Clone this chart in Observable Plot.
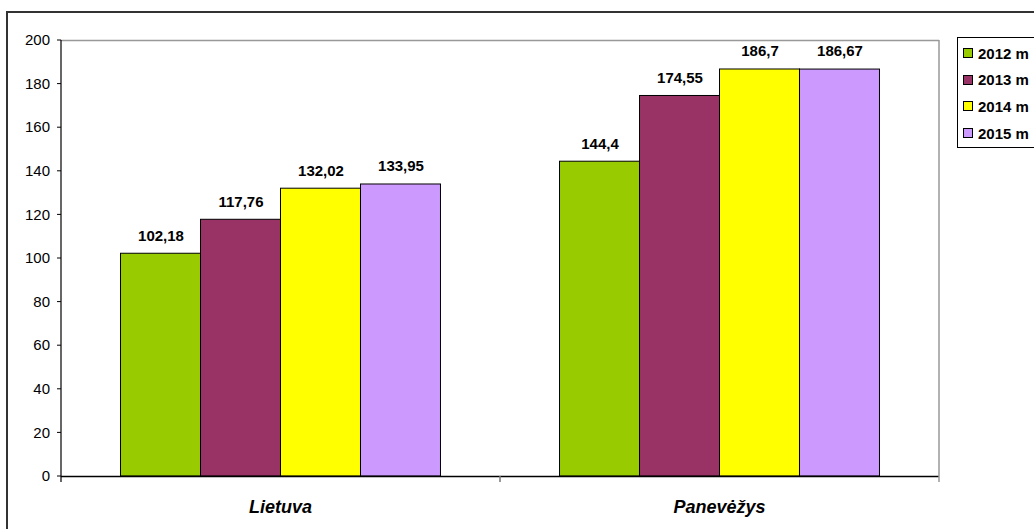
<!DOCTYPE html>
<html>
<head>
<meta charset="utf-8">
<script src="https://cdn.jsdelivr.net/npm/d3@7"></script>
<script src="https://cdn.jsdelivr.net/npm/@observablehq/plot@0.6"></script>
<style>
  html, body { margin: 0; padding: 0; background: #fff; overflow: hidden; }
  #wrap { position: relative; width: 1034px; height: 529px; overflow: hidden; font-family: "Liberation Sans", Arial, sans-serif; }
  #otop { position: absolute; left: 6px; top: 11px; width: 1028px; height: 2px; background: #333; }
  #oleft { position: absolute; left: 6px; top: 11px; width: 2px; height: 518px; background: #333; }
  #chart { position: absolute; left: 0; top: 0; }
  #legend { position: absolute; left: 957px; top: 37px; width: 77px; height: 111px; border-left: 1px solid #000; border-top: 1px solid #000; border-bottom: 1px solid #000; box-sizing: border-box; background: #fff; }
  .item { position: absolute; left: 5px; height: 16px; display: flex; align-items: center; font-weight: bold; font-size: 15px; color: #000; white-space: nowrap; }
  .sw { width: 8px; height: 8px; border: 1px solid #000; margin-right: 5px; flex: none; }
</style>
</head>
<body>
<div id="wrap">
  <div id="otop"></div>
  <div id="oleft"></div>
  <div id="chart"></div>
  <div id="legend"></div>
</div>
<script>
const categories = ["Lietuva", "Panevėžys"];
const years = ["2012 m", "2013 m", "2014 m", "2015 m"];
const colors = ["#99CC00", "#993366", "#FFFF00", "#CC99FF"];
const lietuva = [102.18, 117.76, 132.02, 133.95];
const panevezys = [144.4, 174.55, 186.7, 186.67];
const yTicks = [0, 20, 40, 60, 80, 100, 120, 140, 160, 180, 200];

const data = [];
years.forEach((yr, i) => data.push({cat: categories[0], year: yr, value: lietuva[i]}));
years.forEach((yr, i) => data.push({cat: categories[1], year: yr, value: panevezys[i]}));

const fmt = v => String(v).replace(".", ",");

const plot = Plot.plot({
  width: 1034,
  height: 529,
  marginLeft: 61,
  marginRight: 95,
  marginTop: 40,
  marginBottom: 53,
  style: {fontFamily: "'Liberation Sans', Arial, sans-serif", fontSize: "15px", background: "transparent", color: "#000", overflow: "hidden"},
  fx: {domain: categories, padding: 0, label: null, axis: null, round: false},
  x: {domain: years, paddingInner: 0, paddingOuter: 0.744, axis: null, round: false},
  y: {domain: [0, 200], ticks: yTicks, label: null, axis: null},
  color: {domain: years, range: colors},
  marks: [
    Plot.ruleY([200], {stroke: "#999", strokeWidth: 1.5}),
    Plot.barY(data, {fx: "cat", x: "year", y: "value", fill: "year", stroke: "#000", strokeWidth: 1, inset: 0}),
    Plot.ruleY([0], {stroke: "#000", strokeWidth: 1.5}),
    Plot.text(data, {fx: "cat", x: "year", y: "value", text: d => fmt(d.value), dy: -18, fontWeight: "bold", fontSize: 15, fill: "#000"})
  ]
});
document.getElementById("chart").appendChild(plot);

// Axes and frame drawn from the plot's own scales
const svg = d3.select(plot);
const fx = plot.scale("fx");
const ys = plot.scale("y");
const bw = fx.bandwidth;
const left = fx.apply(categories[0]);
const right = fx.apply(categories[categories.length - 1]) + bw;
const y0 = ys.apply(0), y200 = ys.apply(200);
const g = svg.append("g");
// right border (gray)
g.append("line").attr("x1", right).attr("x2", right).attr("y1", y200).attr("y2", y0 + 6).attr("stroke", "#999").attr("stroke-width", 1.5);
// y axis line
g.append("line").attr("x1", left).attr("x2", left).attr("y1", y200).attr("y2", y0 + 6).attr("stroke", "#000").attr("stroke-width", 1.2);
// y ticks
yTicks.forEach(t => {
  const y = ys.apply(t);
  g.append("line").attr("x1", left - 4).attr("x2", left).attr("y1", y).attr("y2", y).attr("stroke", "#000");
  g.append("text").attr("x", left - 11).attr("y", y).attr("dy", "0.35em").attr("text-anchor", "end")
    .style("font-size", "15px").attr("fill", "#000").text(t);
});
// x ticks at band boundaries and category labels
categories.forEach((c, i) => {
  const x = fx.apply(c);
  if (i > 0) g.append("line").attr("x1", x).attr("x2", x).attr("y1", y0).attr("y2", y0 + 6).attr("stroke", "#777").attr("stroke-width", 1.5);
  g.append("text").attr("x", x + bw / 2).attr("y", y0 + 31).attr("dy", "0.35em").attr("text-anchor", "middle")
    .style("font-size", "18px").style("font-weight", "bold").style("font-style", "italic").attr("fill", "#000").text(c);
});

// Legend
const legend = document.getElementById("legend");
years.forEach((yr, i) => {
  const it = document.createElement("div");
  it.className = "item";
  it.style.top = (7 + i * 26.7) + "px";
  it.innerHTML = `<span class="sw" style="background:${colors[i]}"></span>${yr}`;
  legend.appendChild(it);
});
</script>
</body>
</html>
